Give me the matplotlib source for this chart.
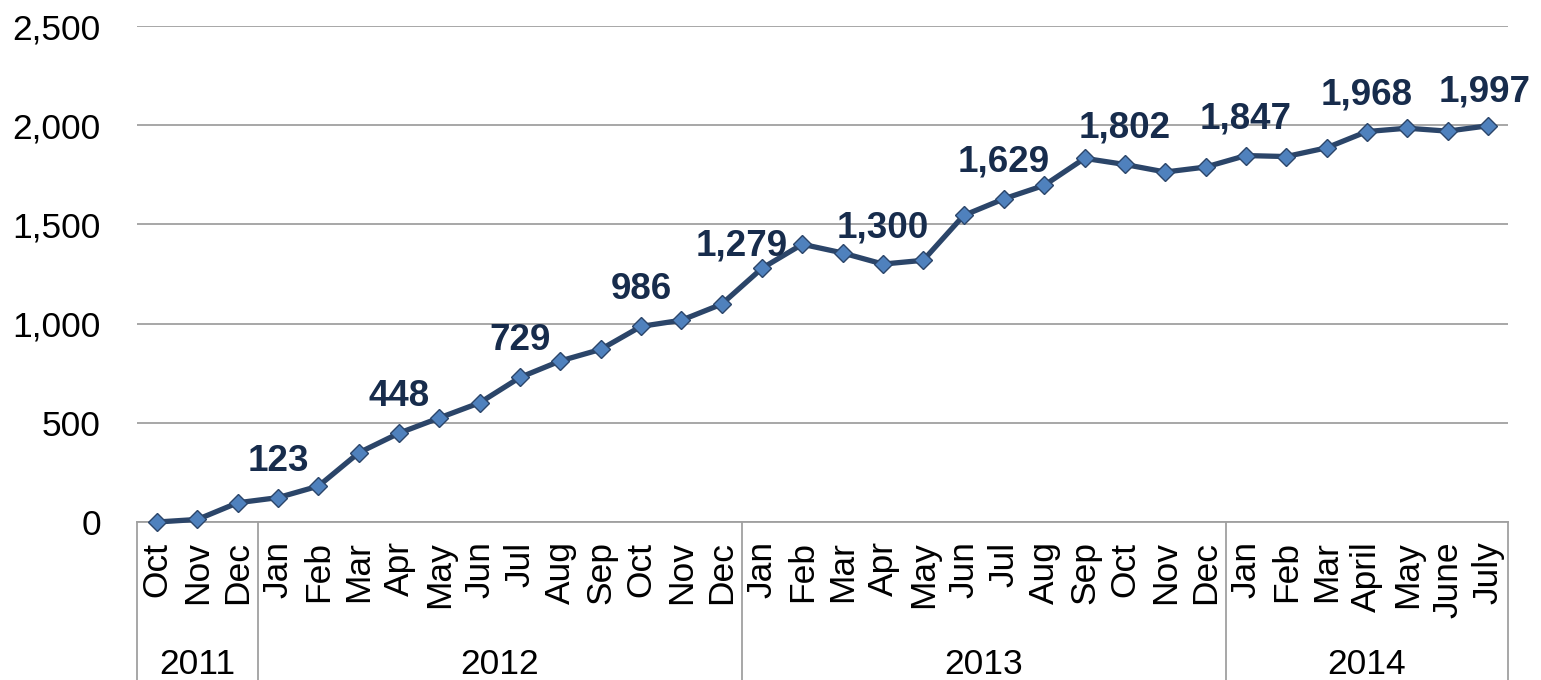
import matplotlib
matplotlib.use("Agg")
import matplotlib.pyplot as plt
import matplotlib.transforms as mtransforms
from matplotlib.lines import Line2D

# ---- data ----
months = ["Oct", "Nov", "Dec",
          "Jan", "Feb", "Mar", "Apr", "May", "Jun", "Jul", "Aug", "Sep", "Oct", "Nov", "Dec",
          "Jan", "Feb", "Mar", "Apr", "May", "Jun", "Jul", "Aug", "Sep", "Oct", "Nov", "Dec",
          "Jan", "Feb", "Mar", "April", "May", "June", "July"]
years = ["2011", "2012", "2013", "2014"]
year_counts = [3, 12, 12, 7]
values = [0, 13, 97,
          123, 181, 349, 448, 525, 601, 729, 812, 870, 986, 1017, 1098,
          1279, 1400, 1356, 1300, 1319, 1545, 1629, 1697, 1833, 1802, 1764, 1789,
          1847, 1842, 1886, 1968, 1985, 1970, 1997]
labeled_idx = list(range(3, len(values), 3))
y_ticks = [0, 500, 1000, 1500, 2000, 2500]

plt.rcParams['font.family'] = ['Liberation Sans', 'DejaVu Sans']

W, H = 1541, 680
fig = plt.figure(figsize=(W / 100, H / 100), dpi=100)
left, right, top, bottom = 137, 1508, 26, 522
ax = fig.add_axes([left / W, (H - bottom) / H, (right - left) / W, (bottom - top) / H])

x = list(range(len(values)))
line_color = "#2B4569"
ax.plot(x, values, color=line_color, lw=3.8, marker="D", markersize=9.5,
        markerfacecolor="#4F81BD", markeredgecolor="#2B4569", markeredgewidth=1.0,
        zorder=3, clip_on=False)

ax.set_xlim(-0.5, len(values) - 0.5)
ax.set_ylim(0, 2500)
ax.set_yticks(y_ticks)
ax.set_yticklabels([f"{v:,}" for v in y_ticks], fontsize=25.5)
ax.tick_params(axis="y", length=0, pad=26)
ax.yaxis.grid(True, color="#A0A0A0", lw=1.3)
ax.set_axisbelow(True)

ax.set_xticks(x)
ax.set_xticklabels(months, rotation=90, fontsize=25.5)
ax.tick_params(axis="x", length=0, pad=14)

for s in ["top", "right", "left"]:
    ax.spines[s].set_visible(False)
ax.spines["bottom"].set_color("#A0A0A0")
ax.spines["bottom"].set_linewidth(1.3)

# data labels
label_color = "#172C4C"
for i in labeled_idx:
    dx, dy = 0, 27
    if i == 15:
        dx, dy = -20, 13
    if i == len(values) - 1:
        dx, dy = -3, 24
    ax.annotate(f"{values[i]:,}", (i, values[i]), xytext=(dx * 0.72, dy * 0.72),
                textcoords="offset points", ha="center", va="baseline",
                fontsize=26.5, fontweight="bold", color=label_color, annotation_clip=False)

# multi-level category axis: separators and year labels
trans = mtransforms.blended_transform_factory(ax.transData, ax.transAxes)
plot_h = bottom - top
y_line_bottom = (bottom - H) / plot_h
y_year = (bottom - 664) / plot_h
start = 0
bounds = [0]
for name, cnt in zip(years, year_counts):
    center = start + (cnt - 1) / 2
    ax.text(center, y_year, name, transform=trans, ha="center", va="center",
            fontsize=25.5, clip_on=False)
    start += cnt
    bounds.append(start)
for b in bounds:
    ax.add_line(Line2D([b - 0.5, b - 0.5], [0, y_line_bottom], transform=trans,
                       color="#A0A0A0", lw=1.3, clip_on=False))

fig.savefig("out.png", dpi=100)
